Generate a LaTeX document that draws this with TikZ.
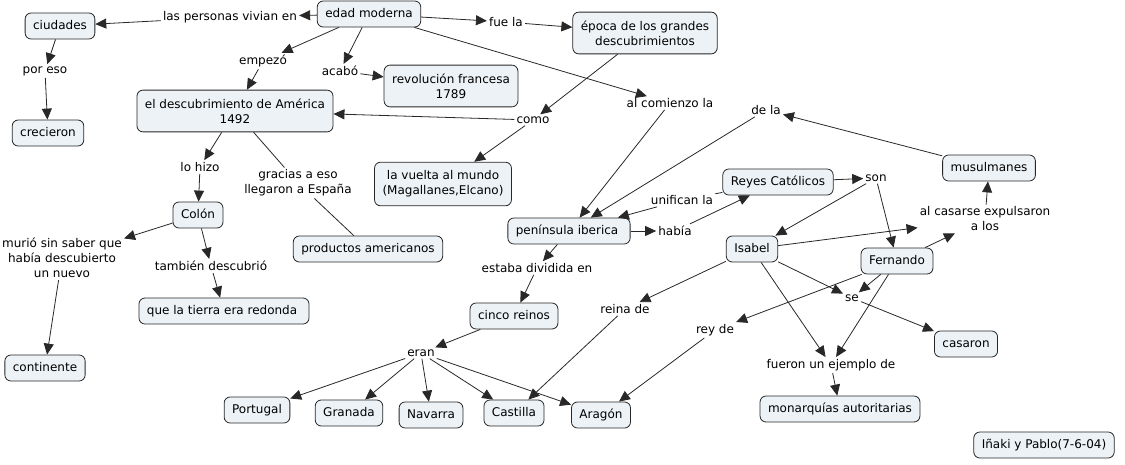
\documentclass[tikz,border=0pt]{standalone}
\usepackage{fontspec}
\setmainfont{DejaVu Sans}
\usetikzlibrary{arrows.meta}
\definecolor{cfill}{RGB}{236,242,246}
\definecolor{cline}{RGB}{40,40,40}
\begin{document}
\begin{tikzpicture}[x=1pt,y=-1pt,
  every node/.style={font=\fontsize{12}{15}\selectfont, text=black},
  cbase/.style={draw=cline, fill=cfill, rounded corners=6pt, inner xsep=8pt, align=center, line width=0.8pt},
  concept/.style={cbase, inner ysep=7pt, text height=9pt, text depth=3pt},
  concepttwo/.style={cbase, inner ysep=8.5pt},
  link/.style={inner sep=2pt, align=center},
  arr/.style={draw=cline, line width=0.8pt, -{Triangle[length=11pt,width=10pt]}},
  ln/.style={draw=cline, line width=0.8pt}]
\useasboundingbox (0,0) rectangle (1125,464);
% concepts
\node[concept] (ciud) at (60,26) {ciudades};
\node[concept] (edad) at (369,14) {edad moderna};
\node[concepttwo] (epoca) at (645,33) {época de los grandes\\descubrimientos};
\node[concepttwo] (revo) at (451,86) {revolución francesa\\1789};
\node[concepttwo] (desc) at (235,111) {el descubrimiento de América\\1492};
\node[concept] (crec) at (48,133) {crecieron};
\node[concepttwo] (vuel) at (443,184) {la vuelta al mundo\\(Magallanes,Elcano)};
\node[concept] (reyes) at (778,182) {Reyes Católicos};
\node[concept] (musul) at (989,168) {musulmanes};
\node[concept] (colon) at (198,215) {Colón};
\node[concept] (prod) at (368,249) {productos americanos};
\node[concept] (pen) at (569,231) {península iberica\ };
\node[concept] (isab) at (752,249) {Isabel};
\node[concept] (fern) at (897,261) {Fernando};
\node[concept] (tierra) at (224,311) {que la tierra era redonda\ };
\node[concept] (cinco) at (514,316) {cinco reinos};
\node[concept] (cas) at (966,344) {casaron};
\node[concept] (cont) at (45,368) {continente};
\node[concept] (port) at (257,410) {Portugal};
\node[concept] (gran) at (349,413) {Granada};
\node[concept] (nav) at (431,415) {Navarra};
\node[concept] (cast) at (514,413) {Castilla};
\node[concept] (arag) at (601,415) {Aragón};
\node[concept] (mon) at (840,409) {monarquías autoritarias};
\node[concept] (ina) at (1044,445) {Iñaki y Pablo(7-6-04)};
% linking phrases
\node[link] (lpv) at (230,17) {las personas vivian en};
\node[link] (lfue) at (506,22) {fue la};
\node[link] (lemp) at (263,61) {empezó};
\node[link] (laca) at (340,71) {acabó};
\node[link] (lpor) at (45,71) {por eso};
\node[link] (lcomo) at (533,120) {como};
\node[link] (lcom) at (670,103) {al comienzo la};
\node[link] (ldela) at (766,110) {de la};
\node[link] (lhizo) at (200,167) {lo hizo};
\node[link] (lgra) at (298,183) {gracias a eso\\llegaron a España};
\node[link] (luni) at (682,200) {unifican la};
\node[link] (lhab) at (675,231) {había};
\node[link] (lson) at (876,178) {son};
\node[link] (lcasa) at (985,219) {al casarse expulsaron\\a los};
\node[link] (lmur) at (62,258) {murió sin saber que\\había descubierto\\un nuevo};
\node[link] (ltam) at (211,266) {también descubrió};
\node[link] (lest) at (537,268) {estaba dividida en};
\node[link] (lrei) at (625,309) {reina de};
\node[link] (lse) at (852,298) {se};
\node[link] (lrey) at (715,330) {rey de};
\node[link] (leran) at (421,353) {eran};
\node[link] (lfuer) at (831,365) {fueron un ejemplo de};
% connectors
\draw[arr] (edad) -- (lpv);
\draw[arr] (lpv) -- (ciud);
\draw[arr] (ciud) -- (lpor);
\draw[arr] (lpor) -- (crec);
\draw[arr] (edad) -- (lemp);
\draw[arr] (lemp) -- (desc);
\draw[arr] (edad) -- (laca);
\draw[arr] (laca) -- (revo);
\draw[arr] (edad) -- (lfue);
\draw[arr] (lfue) -- (epoca);
\draw[arr] (edad) -- (lcom);
\draw[arr] (epoca) -- (lcomo);
\draw[arr] (lcomo) -- (desc);
\draw[arr] (lcomo) -- (vuel);
\draw[arr] (lcom) -- (pen);
\draw[arr] (ldela) -- (pen);
\draw[arr] (musul) -- (ldela);
\draw[arr] (desc) -- (lhizo);
\draw[arr] (lhizo) -- (colon);
\draw[ln] (desc) -- (lgra);
\draw[ln] (lgra) -- (prod);
\draw[arr] (colon) -- (lmur);
\draw[arr] (colon) -- (ltam);
\draw[arr] (ltam) -- (tierra);
\draw[arr] (lmur) -- (cont);
\draw[arr] (pen) -- (lhab);
\draw[arr] (lhab) -- (reyes);
\draw[ln] (reyes) -- (luni);
\draw[arr] (luni) -- (pen);
\draw[arr] (reyes) -- (lson);
\draw[arr] (lson) -- (isab);
\draw[arr] (lson) -- (fern);
\draw[arr] (isab) -- (lcasa);
\draw[arr] (fern) -- (lcasa);
\draw[arr] (lcasa) -- (musul);
\draw[arr] (isab) -- (lrei);
\draw[arr] (lrei) -- (cast);
\draw[arr] (fern) -- (lrey);
\draw[arr] (lrey) -- (arag);
\draw[arr] (isab) -- (lse);
\draw[arr] (fern) -- (lse);
\draw[arr] (lse) -- (cas);
\draw[arr] (isab) -- (lfuer);
\draw[arr] (fern) -- (lfuer);
\draw[arr] (lfuer) -- (mon);
\draw[arr] (pen) -- (lest);
\draw[arr] (lest) -- (cinco);
\draw[arr] (cinco) -- (leran);
\draw[arr] (leran) -- (port);
\draw[arr] (leran) -- (gran);
\draw[arr] (leran) -- (nav);
\draw[arr] (leran) -- (cast);
\draw[arr] (leran) -- (arag);
\end{tikzpicture}
\end{document}
